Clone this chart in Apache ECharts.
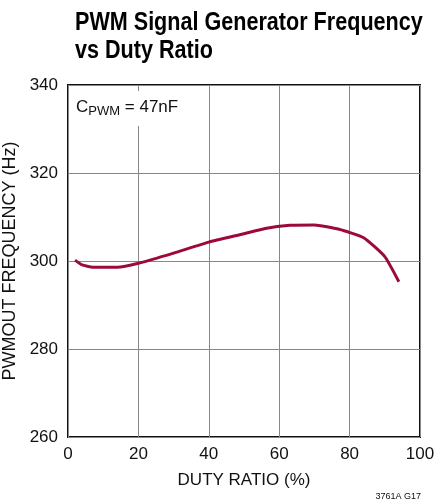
<!DOCTYPE html>
<html><head><meta charset="utf-8">
<script src="https://cdn.jsdelivr.net/npm/echarts@6/dist/echarts.min.js"></script>
<style>html,body{margin:0;padding:0;background:#fff}#c{width:441px;height:502px}</style>
</head><body><div id="c"></div>
<script>
var dutyRatio = [2, 4, 7, 14, 20, 30, 40, 50, 56, 63, 70, 77, 84, 90, 94];
var frequency = [300.2, 299.1, 298.6, 298.6, 299.5, 301.8, 304.3, 306.2, 307.4, 308.1, 308.2, 307.2, 305.3, 301.0, 295.3];
var xTicks = [0, 20, 40, 60, 80, 100];
var yTicks = [260, 280, 300, 320, 340];
var FONT = '"Liberation Sans", Arial, sans-serif';
var chart = echarts.init(document.getElementById('c'));
chart.setOption({
  animation: false,
  grid: {left: 68, right: 21, top: 85, bottom: 65, show: true, borderColor: '#111', borderWidth: 2, backgroundColor: 'transparent', containLabel: false, outerBoundsMode: 'none'},
  xAxis: {
    type: 'value', min: xTicks[0], max: xTicks[xTicks.length - 1], interval: 20,
    name: 'DUTY RATIO (%)', nameLocation: 'middle', nameGap: 35,
    nameTextStyle: {fontFamily: FONT, fontSize: 17, color: '#111'},
    axisLine: {show: false}, axisTick: {show: false},
    axisLabel: {fontFamily: FONT, fontSize: 17, color: '#111', margin: 9},
    splitLine: {show: true, lineStyle: {color: '#888', width: 1}}
  },
  yAxis: {
    type: 'value', min: yTicks[0], max: yTicks[yTicks.length - 1], interval: 20,
    name: 'PWMOUT FREQUENCY (Hz)', nameLocation: 'middle', nameGap: 48, nameRotate: 90,
    nameTextStyle: {fontFamily: FONT, fontSize: 18, color: '#111'},
    axisLine: {show: false}, axisTick: {show: false},
    axisLabel: {fontFamily: FONT, fontSize: 17, color: '#111', margin: 10},
    splitLine: {show: true, lineStyle: {color: '#888', width: 1}}
  },
  series: [{
    type: 'line', smooth: 0.15, symbol: 'none',
    data: dutyRatio.map(function (d, i) { return [d, frequency[i]]; }),
    lineStyle: {color: '#9b0a3a', width: 3}
  }],
  graphic: [
    {type: 'text', x: 75, y: 9, scaleX: 0.83,
      style: {text: 'PWM Signal Generator Frequency\nvs Duty Ratio', font: 'bold 26px ' + FONT, fill: '#000', lineHeight: 28}},
    {type: 'text', left: 72, top: 91, z: 10,
      style: {rich: {
        a: {fontFamily: FONT, fontSize: 17, fill: '#111'},
        s: {fontFamily: FONT, fontSize: 13, fill: '#111', padding: [8, 0, 0, 0]}
      }, text: '{a|C}{s|PWM}{a| = 47nF}', backgroundColor: '#fff', padding: [6, 4, 8, 4]}},
    {type: 'text', right: 20, top: 492,
      style: {text: '3761A G17', fontFamily: FONT, fontSize: 9, fill: '#111'}}
  ]
});
</script></body></html>
